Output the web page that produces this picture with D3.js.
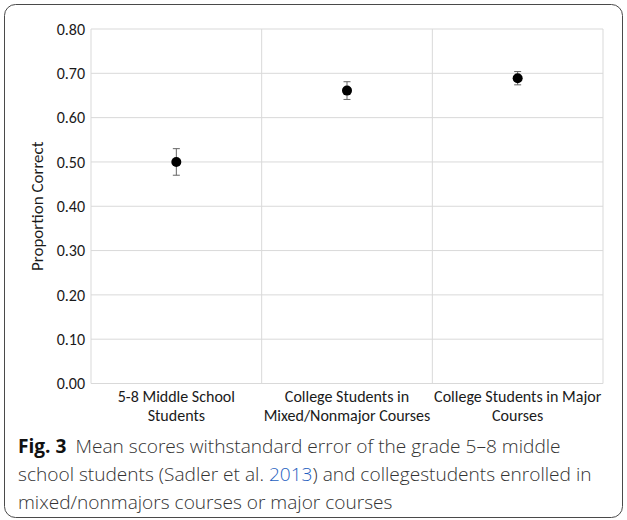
<!DOCTYPE html>
<html>
<head>
<meta charset="utf-8">
<script src="https://cdn.jsdelivr.net/npm/d3@7/dist/d3.min.js"></script>
<style>
  html, body { margin: 0; padding: 0; background: #fff; }
  svg { display: block; }
</style>
</head>
<body>
<script>
// Group labels (two lines each), mean proportion correct and standard error
const groups = [
  ["5-8 Middle School", "Students"],
  ["College Students in", "Mixed/Nonmajor Courses"],
  ["College Students in Major", "Courses"]
];
const means = [0.50, 0.661, 0.689];
const stdErrors = [0.030, 0.020, 0.015];
const yTicks = [0, 0.1, 0.2, 0.3, 0.4, 0.5, 0.6, 0.7, 0.8];

const W = 627, H = 520;
const plot = { left: 91, right: 603, top: 29, bottom: 383.5 };

const svg = d3.select("body").append("svg")
  .attr("width", W).attr("height", H);

// Figure frame
svg.append("rect")
  .attr("x", 4.5).attr("y", 4.5)
  .attr("width", W - 9).attr("height", H - 7)
  .attr("rx", 11).attr("ry", 11)
  .attr("fill", "#fff").attr("stroke", "#4a4a4a").attr("stroke-width", 1);

const x = d3.scaleBand()
  .domain(d3.range(groups.length))
  .range([plot.left, plot.right])
  .padding(0);

const y = d3.scaleLinear()
  .domain([0, 0.8])
  .range([plot.bottom, plot.top]);

const font = "Carlito, 'Open Sans', Lato, sans-serif";
const grid = "#d9d9d9";

// Horizontal gridlines
svg.append("g").selectAll("line").data(yTicks).join("line")
  .attr("x1", plot.left).attr("x2", plot.right)
  .attr("y1", d => y(d)).attr("y2", d => y(d))
  .attr("stroke", grid).attr("stroke-width", 1);

// Vertical separators between groups and the plot edges
const edges = d3.range(groups.length + 1).map(i =>
  i < groups.length ? x(i) : x(groups.length - 1) + x.bandwidth());
svg.append("g").selectAll("line").data(edges).join("line")
  .attr("x1", d => d).attr("x2", d => d)
  .attr("y1", plot.top).attr("y2", plot.bottom)
  .attr("stroke", grid).attr("stroke-width", 1);

// Y axis tick labels
const yAxis = d3.axisLeft(y).tickValues(yTicks).tickFormat(d3.format(".2f"))
  .tickSize(0).tickPadding(6);
const ya = svg.append("g")
  .attr("transform", `translate(${plot.left},0)`)
  .call(yAxis);
ya.select(".domain").remove();
ya.selectAll("text")
  .attr("font-family", font).attr("font-size", 16).attr("fill", "#1a1a1a");

// Y axis title
svg.append("text")
  .attr("transform", `translate(43,${(plot.top + plot.bottom) / 2}) rotate(-90)`)
  .attr("text-anchor", "middle")
  .attr("font-family", font).attr("font-size", 17).attr("fill", "#1a1a1a")
  .text("Proportion Correct");

// Category labels
const cat = svg.append("g");
groups.forEach((lines, i) => {
  const t = cat.append("text")
    .attr("x", x(i) + x.bandwidth() / 2)
    .attr("y", 402)
    .attr("text-anchor", "middle")
    .attr("font-family", font).attr("font-size", 16).attr("fill", "#1a1a1a");
  lines.forEach((l, j) => {
    t.append("tspan")
      .attr("x", x(i) + x.bandwidth() / 2)
      .attr("dy", j === 0 ? 0 : 19)
      .text(l);
  });
});

// Error bars
const eb = svg.append("g").attr("stroke", "#666").attr("stroke-width", 1);
means.forEach((m, i) => {
  const cx = x(i) + x.bandwidth() / 2;
  const lo = y(m - stdErrors[i]), hi = y(m + stdErrors[i]);
  eb.append("line").attr("x1", cx).attr("x2", cx).attr("y1", lo).attr("y2", hi);
  eb.append("line").attr("x1", cx - 3.5).attr("x2", cx + 3.5).attr("y1", lo).attr("y2", lo);
  eb.append("line").attr("x1", cx - 3.5).attr("x2", cx + 3.5).attr("y1", hi).attr("y2", hi);
});

// Mean markers
svg.append("g").selectAll("circle").data(means).join("circle")
  .attr("cx", (d, i) => x(i) + x.bandwidth() / 2)
  .attr("cy", d => y(d))
  .attr("r", 5)
  .attr("fill", "#000");

// Caption
const capFont = "'Open Sans', 'Noto Sans', sans-serif";
const cap = svg.append("g")
  .attr("font-family", capFont).attr("font-size", 19.1).attr("fill", "#333");
const l1 = cap.append("text").attr("x", 18).attr("y", 453);
l1.append("tspan").attr("font-weight", "bold").attr("fill", "#111").text("Fig. 3");
l1.append("tspan").attr("dx", 9).attr("font-weight", 300)
  .text("Mean scores withstandard error of the grade 5\u20138 middle");
const l2 = cap.append("text").attr("x", 18).attr("y", 481).attr("font-weight", 300);
l2.append("tspan").text("school students (Sadler et al. ");
l2.append("tspan").attr("fill", "#1f5fbf").text("2013");
l2.append("tspan").text(") and collegestudents enrolled in");
cap.append("text").attr("x", 18).attr("y", 509).attr("font-weight", 300)
  .text("mixed/nonmajors courses or major courses");
</script>
</body>
</html>
